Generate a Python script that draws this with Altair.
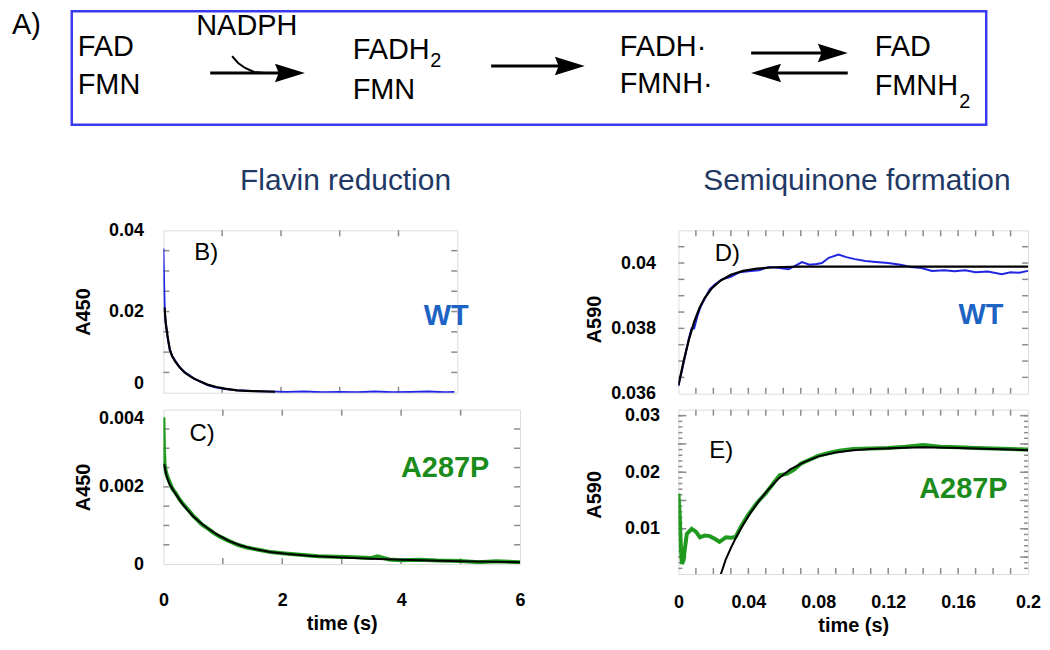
import altair as alt
import pandas as pd

FONT = "Liberation Sans"
TICK_C = "#8c8c8c"
BLUE_D = "#2026e0"
BLUE_L = "#1c63c4"
GREEN_D = "#1f9a1f"
GREEN_L = "#1b8c1b"
NAVY = "#1f3864"

# ---------------- Scheme (panel A) ----------------
scheme_text = ["A)", "FAD", "FMN", "NADPH", "FADH", "FMN", "FADH·", "FMNH·", "FAD", "FMNH"]
scheme_x = [8, 74, 74, 193, 350, 350, 618, 618, 874, 874]
scheme_y = [32, 54, 92, 33, 57, 97, 54, 91, 54, 93]
sub_text = ["2", "2"]
sub_x = [428, 959]
sub_y = [65, 106]
title_text = ["Flavin reduction", "Semiquinone formation"]
title_x = [237, 702]
title_y = [188, 188]
box_x1, box_x2, box_y1, box_y2 = [68], [986], [9], [123]
shaft_x1 = [207, 489, 750, 772]
shaft_x2 = [290, 570, 832, 847]
shaft_y = [71, 64, 51, 71]
headR_x = [287, 568, 832]
headR_y = [71, 64, 51]
headL_x = [765]
headL_y = [71]
curve_x = [229, 235, 242, 251, 262]
curve_y = [54, 61, 66, 70, 71]

# ---------------- Panel B: WT flavin reduction ----------------
b_t = [0, 0.01, 0.02, 0.03, 0.05, 0.08, 0.11, 0.15, 0.2, 0.28, 0.36, 0.45, 0.52, 0.62, 0.75,
       0.9, 1.05, 1.25, 1.5, 1.8, 2.1, 2.4, 2.7, 3.0, 3.3, 3.6, 3.9, 4.2, 4.5, 4.8, 4.95]
b_v = [0.0355, 0.028, 0.022, 0.0185, 0.016, 0.0128, 0.0105, 0.009, 0.0079, 0.0062, 0.0051,
       0.0042, 0.0035, 0.0028, 0.0019, 0.0013, 0.0009, 0.0006, 0.0004, 0.0003, 0.0002, 0.0003,
       0.0001, 0.0002, 0.0001, 0.0003, 0.0001, 0.0002, 0.0003, 0.0001, 0.0002]
bfit_t = [0.02, 0.04, 0.07, 0.11, 0.15, 0.2, 0.28, 0.36, 0.45, 0.52, 0.62, 0.75, 0.9, 1.05,
          1.25, 1.5, 1.9]
bfit_v = [0.021, 0.0172, 0.014, 0.0106, 0.009, 0.0077, 0.0062, 0.005, 0.0041, 0.0035, 0.0028,
          0.002, 0.0014, 0.001, 0.0006, 0.0004, 0.0002]

# ---------------- Panel C: A287P flavin reduction ----------------
c_t = [0, 0.005, 0.01, 0.02, 0.04, 0.07, 0.11, 0.15, 0.2, 0.27, 0.34, 0.42, 0.5, 0.56, 0.65,
       0.75, 0.85, 0.95, 1.1, 1.25, 1.4, 1.6, 1.8, 2.0, 2.3, 2.6, 2.9, 3.2, 3.5, 3.6, 3.8, 4.0,
       4.3, 4.6, 5.0, 5.3, 5.6, 6.0]
c_v = [0.0038, 0.0033, 0.0029, 0.0026, 0.0024, 0.00225, 0.0021, 0.00195, 0.00185, 0.00168,
       0.00154, 0.0014, 0.00125, 0.00116, 0.00102, 0.00092, 0.0008, 0.00071, 0.0006, 0.0005,
       0.00043, 0.00037, 0.00031, 0.00028, 0.00024, 0.0002, 0.00019, 0.00018, 0.00016, 0.0002,
       0.00012, 0.0001, 0.00011, 0.00009, 0.00008, 0.00005, 0.00007, 0.00005]
cfit_t = [0.01, 0.05, 0.1, 0.2, 0.3, 0.4, 0.5, 0.6, 0.75, 0.9, 1.1, 1.3, 1.5, 1.8, 2.1, 2.5,
          3.0, 3.5, 4.0, 4.5, 5.0, 5.5, 6.0]
cfit_v = [0.0026, 0.0023, 0.00208, 0.00183, 0.0016, 0.00141, 0.00124, 0.0011, 0.00092,
          0.00077, 0.0006, 0.00048, 0.0004, 0.00031, 0.00026, 0.00021, 0.00017, 0.00014,
          0.00011, 0.00009, 0.00007, 0.00006, 0.00005]

# ---------------- Panel D: WT semiquinone formation ----------------
d_t = [0, 0.002, 0.004, 0.006, 0.0075, 0.009, 0.011, 0.013, 0.0155, 0.018, 0.021, 0.025, 0.03,
       0.035, 0.04, 0.046, 0.052, 0.058, 0.063, 0.067, 0.0707, 0.075, 0.079, 0.0821, 0.086,
       0.0916, 0.096, 0.101, 0.107, 0.113, 0.12, 0.127, 0.133, 0.139, 0.145, 0.152, 0.158,
       0.164, 0.17, 0.177, 0.185, 0.19, 0.195, 0.2]
d_v = [0.03625, 0.0367, 0.0372, 0.0377, 0.038, 0.038, 0.0384, 0.0387, 0.03895, 0.0392, 0.03935,
       0.0395, 0.03958, 0.03972, 0.03975, 0.03978, 0.03988, 0.03985, 0.03981, 0.03992, 0.04003,
       0.03995, 0.03997, 0.04, 0.04016, 0.04026, 0.04018, 0.04012, 0.04006, 0.04003, 0.04,
       0.03995, 0.03988, 0.03985, 0.03976, 0.03978, 0.03975, 0.03978, 0.03972, 0.03974,
       0.03966, 0.03972, 0.0397, 0.03976]
dfit_t = [0, 0.003, 0.006, 0.009, 0.012, 0.015, 0.019, 0.024, 0.03, 0.037, 0.045, 0.055, 0.07,
          0.1, 0.2]
dfit_v = [0.03625, 0.037, 0.03765, 0.0382, 0.03862, 0.03893, 0.03922, 0.03946, 0.03964,
          0.03976, 0.03983, 0.03987, 0.03989, 0.03989, 0.03989]

# ---------------- Panel E: A287P semiquinone formation ----------------
e_t = [0.0, 0.0008, 0.0015, 0.002, 0.003, 0.0035, 0.0048, 0.0076, 0.01, 0.0123, 0.015, 0.0179,
       0.021, 0.0235, 0.0272, 0.03, 0.0328, 0.036, 0.04, 0.045, 0.05, 0.055, 0.058, 0.062,
       0.066, 0.07, 0.075, 0.08, 0.086, 0.092, 0.1, 0.11, 0.12, 0.13, 0.14, 0.15, 0.16, 0.17,
       0.18, 0.19, 0.2]
e_v = [0.0162, 0.012, 0.006, 0.0038, 0.0045, 0.006, 0.0091, 0.01, 0.0095, 0.0085, 0.0088,
       0.0087, 0.0082, 0.0077, 0.0085, 0.0084, 0.0086, 0.0105, 0.0125, 0.0146, 0.0163, 0.0183,
       0.0195, 0.0197, 0.0204, 0.0215, 0.0222, 0.0229, 0.0234, 0.0238, 0.0241, 0.0242, 0.0243,
       0.0245, 0.0248, 0.0245, 0.0244, 0.0243, 0.0242, 0.0241, 0.024]
efit_t = [0.0243, 0.027, 0.03, 0.033, 0.037, 0.041, 0.046, 0.051, 0.057, 0.064, 0.072, 0.08,
          0.09, 0.1, 0.11, 0.125, 0.14, 0.16, 0.18, 0.2]
efit_v = [0.002, 0.0045, 0.0066, 0.0085, 0.0107, 0.0127, 0.0149, 0.0168, 0.0188, 0.0205,
          0.0218, 0.0228, 0.0235, 0.0239, 0.0241, 0.0243, 0.0244, 0.0243, 0.0241, 0.0239]

# ---------------- Tick positions ----------------
b_xticks = [1, 2, 3, 4]
b_yticks = [0.005, 0.01, 0.015, 0.02, 0.025, 0.03, 0.035]
c_xticks = [1, 2, 3, 4, 5]
c_yticks = [0.0005, 0.001, 0.0015, 0.002, 0.0025, 0.003, 0.0035]
q_xticks = [0.01, 0.02, 0.03, 0.04, 0.05, 0.06, 0.07, 0.08, 0.09, 0.1, 0.11, 0.12, 0.13,
            0.14, 0.15, 0.16, 0.17, 0.18, 0.19]
d_yticks = [0.0365, 0.037, 0.0375, 0.038, 0.0385, 0.039, 0.0395, 0.04, 0.0405]
e_yticks = [0.003, 0.004, 0.005, 0.006, 0.007, 0.008, 0.009, 0.01, 0.011, 0.012, 0.013,
            0.014, 0.015, 0.016, 0.017, 0.018, 0.019, 0.02, 0.021, 0.022, 0.023, 0.024,
            0.025, 0.026, 0.027, 0.028, 0.029, 0.03]
e_yticks_major = [0.005, 0.01, 0.015, 0.02, 0.025, 0.03]


def yaxis(values, fmt, title, pad, tx, ty=None, base_expr=None):
    kw = dict(values=values, format=fmt, ticks=False, domain=False, grid=False,
              labelFont=FONT, labelFontWeight="bold", labelFontSize=18, labelColor="black",
              labelPadding=pad, labelFlush=False, title=title, titleFont=FONT,
              titleFontWeight="bold", titleFontSize=20, titleColor="black", titleX=tx,
              titleBaseline="middle")
    if ty is not None:
        kw["titleY"] = ty
    if base_expr is not None:
        kw["labelBaseline"] = {"expr": base_expr}
    return alt.Axis(**kw)


def xaxis(values, fmt, pad, ty):
    return alt.Axis(values=values, format=fmt, ticks=False, domain=False, grid=False,
                    labelFont=FONT, labelFontWeight="bold", labelFontSize=18,
                    labelColor="black", labelPadding=pad, labelFlush=False,
                    title="time (s)", titleFont=FONT, titleFontWeight="bold",
                    titleFontSize=20, titleColor="black", titleY=ty, titleBaseline="middle")


def panel(W, H, xdom, ydom, series, texts, xt, yt, xax, yax, yt_major=None, TL=6):
    sx = alt.Scale(domain=xdom, nice=False, zero=False)
    sy = alt.Scale(domain=ydom, nice=False, zero=False)
    X = alt.X("t:Q", scale=sx, axis=xax)
    Y = alt.Y("v:Q", scale=sy, axis=yax)
    layers = []
    dfx = pd.DataFrame({"t": xt})
    dfy = pd.DataFrame({"v": yt})
    rule = dict(color=TICK_C, strokeWidth=1.5)
    layers.append(alt.Chart(dfx).mark_rule(**rule).encode(x=X, y=alt.value(0), y2=alt.value(TL)))
    layers.append(alt.Chart(dfx).mark_rule(**rule).encode(x=X, y=alt.value(H - TL), y2=alt.value(H)))
    yl = 4 if yt_major is not None else TL
    layers.append(alt.Chart(dfy).mark_rule(**rule).encode(y=Y, x=alt.value(0), x2=alt.value(yl)))
    layers.append(alt.Chart(dfy).mark_rule(**rule).encode(y=Y, x=alt.value(W - yl), x2=alt.value(W)))
    if yt_major is not None:
        dfm = pd.DataFrame({"v": yt_major})
        layers.append(alt.Chart(dfm).mark_rule(**rule).encode(y=Y, x=alt.value(0), x2=alt.value(8)))
        layers.append(alt.Chart(dfm).mark_rule(**rule).encode(y=Y, x=alt.value(W - 8), x2=alt.value(W)))
    for tt, vv, col, sw in series:
        df = pd.DataFrame({"t": tt, "v": vv})
        layers.append(alt.Chart(df).mark_line(color=col, strokeWidth=sw, clip=True)
                      .encode(x=X, y=Y))
    for txt, tt, vv, col, fs, fw in texts:
        df = pd.DataFrame({"t": [tt], "v": [vv], "s": [txt]})
        layers.append(alt.Chart(df).mark_text(color=col, fontSize=fs, fontWeight=fw, font=FONT,
                                              align="center", baseline="middle")
                      .encode(x=X, y=Y, text="s:N"))
    return alt.layer(*layers).properties(width=W, height=H)


B = panel(295, 163, [0, 5], [0, 0.04],
          [(b_t, b_v, BLUE_D, 2), (bfit_t, bfit_v, "black", 2.2)],
          [("B)", 0.73, 0.0343, "black", 24, "normal"), ("WT", 4.81, 0.019, BLUE_L, 29, "bold")],
          b_xticks, b_yticks, None,
          yaxis([0, 0.02, 0.04], ".2~f", "A450", 20, -80,
                base_expr="datum.value == 0 ? 'bottom' : 'middle'"))

C = panel(358, 155, [0, 6], [0, 0.004],
          [(c_t, c_v, GREEN_D, 4), (cfit_t, cfit_v, "black", 2)],
          [("C)", 0.65, 0.00338, "black", 24, "normal"), ("A287P", 4.74, 0.0025, GREEN_L, 29, "bold")],
          c_xticks, c_yticks, xaxis([0, 2, 4, 6], "d", 28, 60),
          yaxis([0, 0.002, 0.004], ".3~f", "A450", 20, -80,
                base_expr="datum.value > 0.0039 ? 'top' : 'middle'"))

D = panel(351, 164, [0, 0.2], [0.036, 0.041],
          [(d_t, d_v, BLUE_D, 2), (dfit_t, dfit_v, "black", 2.2)],
          [("D)", 0.028, 0.04027, "black", 24, "normal"), ("WT", 0.173, 0.0384, BLUE_L, 29, "bold")],
          q_xticks, d_yticks, None,
          yaxis([0.036, 0.038, 0.04], ".3~f", "A590", 23, -84, 89))

E = panel(351, 165, [0, 0.2], [0.002, 0.03106],
          [(e_t, e_v, GREEN_D, 4), (efit_t, efit_v, "black", 2)],
          [("E)", 0.0245, 0.0238, "black", 24, "normal"), ("A287P", 0.163, 0.0171, GREEN_L, 29, "bold")],
          q_xticks, e_yticks, xaxis([0, 0.04, 0.08, 0.12, 0.16, 0.2], ".2~f", 20, 52),
          yaxis([0.01, 0.02, 0.03], ".2~f", "A590", 19, -84, 85), yt_major=e_yticks_major)

# ---------------- Scheme chart ----------------
SX = alt.Scale(domain=[8, 1038], nice=False, zero=False)
SY = alt.Scale(domain=[8, 208], nice=False, zero=False, reverse=True)


def sxe(f):
    return alt.X(f, type="quantitative", scale=SX, axis=None)


def sye(f):
    return alt.Y(f, type="quantitative", scale=SY, axis=None)


box = alt.Chart(pd.DataFrame({"x1": box_x1, "x2": box_x2, "y1": box_y1, "y2": box_y2})).mark_rect(
    fill="white", fillOpacity=0, stroke="#3a3af0", strokeWidth=2.5
).encode(x=sxe("x1"), x2="x2", y=sye("y1"), y2="y2")

main_txt = alt.Chart(pd.DataFrame({"x": scheme_x, "y": scheme_y, "s": scheme_text})).mark_text(
    font=FONT, fontSize=29, color="black", align="left", baseline="alphabetic"
).encode(x=sxe("x"), y=sye("y"), text="s:N")

sub_txt = alt.Chart(pd.DataFrame({"x": sub_x, "y": sub_y, "s": sub_text})).mark_text(
    font=FONT, fontSize=20, color="black", align="left", baseline="alphabetic"
).encode(x=sxe("x"), y=sye("y"), text="s:N")

ttl_txt = alt.Chart(pd.DataFrame({"x": title_x, "y": title_y, "s": title_text})).mark_text(
    font=FONT, fontSize=30, color=NAVY, align="left", baseline="alphabetic"
).encode(x=sxe("x"), y=sye("y"), text="s:N")

shafts = alt.Chart(pd.DataFrame({"x1": shaft_x1, "x2": shaft_x2, "y": shaft_y})).mark_rule(
    color="black", strokeWidth=3
).encode(x=sxe("x1"), x2="x2", y=sye("y"))

curve = alt.Chart(pd.DataFrame({"x": curve_x, "y": curve_y})).mark_line(
    color="black", strokeWidth=2
).encode(x=sxe("x"), y=sye("y"))

headR = alt.Chart(pd.DataFrame({"x": headR_x, "y": headR_y})).mark_point(
    shape="M1,0L-1,-0.62L-0.75,0L-1,0.62Z", filled=True, size=900, color="black", opacity=1,
    strokeWidth=0
).encode(x=sxe("x"), y=sye("y"))

headL = alt.Chart(pd.DataFrame({"x": headL_x, "y": headL_y})).mark_point(
    shape="M-1,0L1,-0.62L0.75,0L1,0.62Z", filled=True, size=900, color="black", opacity=1,
    strokeWidth=0
).encode(x=sxe("x"), y=sye("y"))

scheme = alt.layer(box, shafts, curve, headR, headL, main_txt, sub_txt, ttl_txt).properties(
    width=1030, height=200, view=alt.ViewBackground(stroke="transparent")
)


def spacer(w):
    return alt.Chart(pd.DataFrame({"a": [0]})).mark_point(opacity=0).encode(
        x=alt.value(0), y=alt.value(0)
    ).properties(width=w, height=10, view=alt.ViewBackground(stroke="transparent"))


grid = alt.concat(spacer(152), B, spacer(159), D,
                  spacer(152), C, spacer(159), E,
                  columns=4, spacing={"row": 16, "column": 0}, bounds="flush")

chart = alt.vconcat(scheme, grid, spacing=21, bounds="flush").properties(
    padding={"left": 0, "top": 0, "right": 0, "bottom": 0}
).configure_view(stroke=TICK_C, strokeWidth=2).configure(font=FONT, background="white")

chart.save("out.html", embed_options={"renderer": "svg", "actions": False})
